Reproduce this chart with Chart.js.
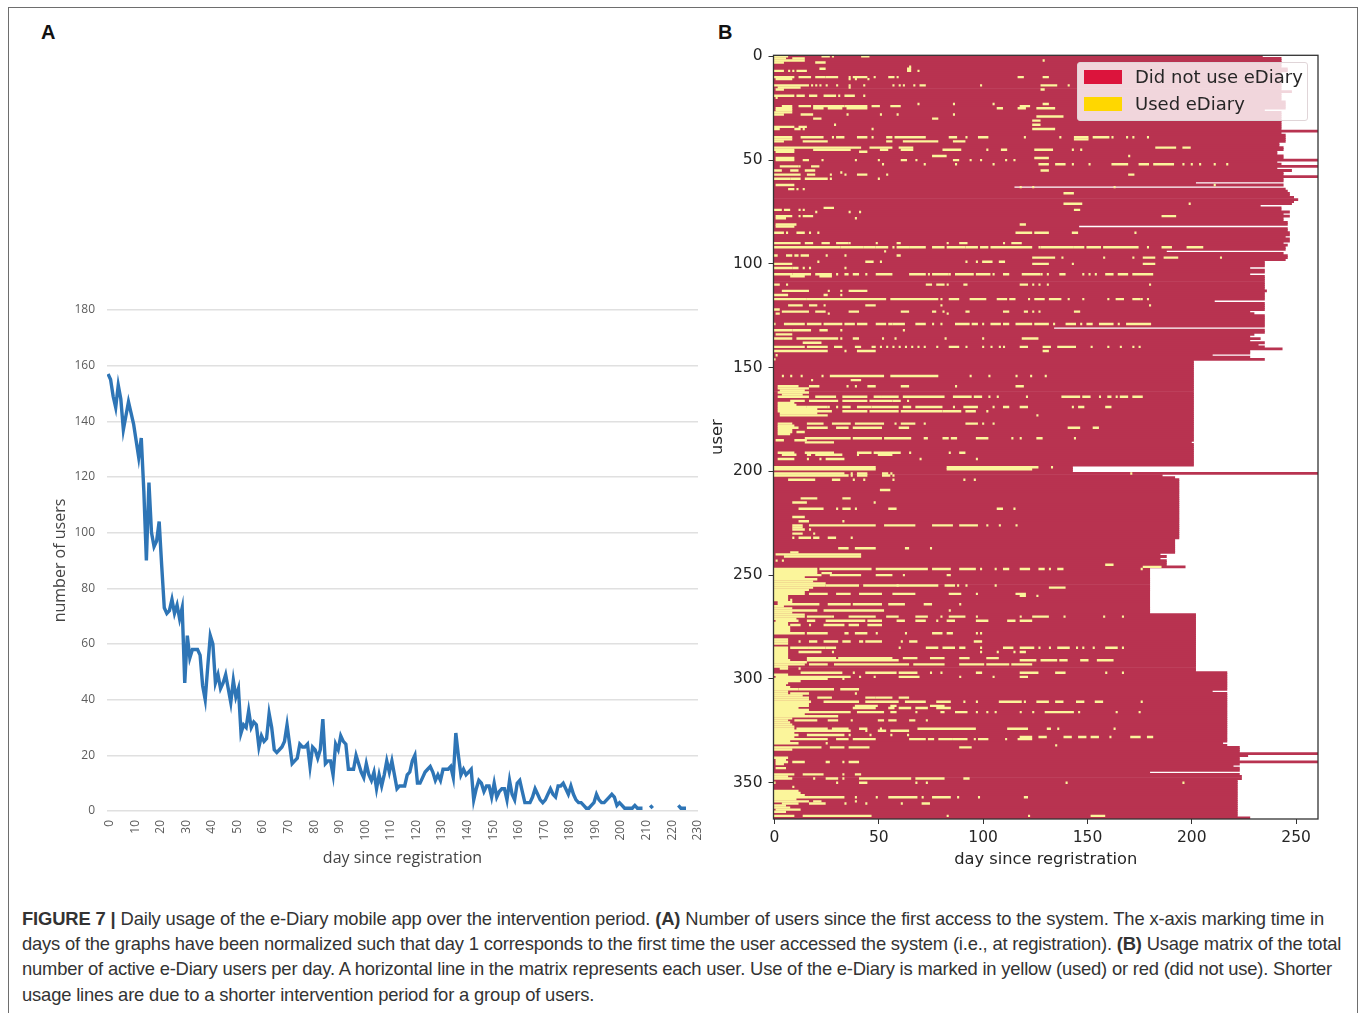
<!DOCTYPE html>
<html>
<head>
<meta charset="utf-8">
<title>Figure 7</title>
<script src="https://cdn.jsdelivr.net/npm/chart.js"></script>
<style>
  html, body { margin: 0; padding: 0; background: #fff; overflow: hidden; }
  body { width: 1360px; height: 1013px; position: relative; font-family: "Liberation Sans", sans-serif; }
  #frame { position: absolute; left: 8px; top: 7px; width: 1348px; height: 1020px; border: 1px solid #6e6e6e; }
  canvas { position: absolute; }
  .panel { position: absolute; top: 21px; font: bold 20px "Liberation Sans", sans-serif; color: #111; }
  .cap { position: absolute; left: 22px; font-size: 18.4px; color: #333; white-space: nowrap; }
  #legend { position: absolute; left: 1077px; top: 62px; width: 231px; height: 59px; background: rgba(255,255,255,0.8);
    border: 1px solid #e0d5d8; border-radius: 3px; box-sizing: border-box; font: 18px "DejaVu Sans", sans-serif; color: #262626; }
  #legend i { position: absolute; left: 6px; width: 38px; height: 14px; }
  #legend span { position: absolute; left: 57px; white-space: nowrap; }
</style>
</head>
<body>
<div id="frame"></div>
<div class="panel" style="left:41px">A</div>
<div class="panel" style="left:718px">B</div>
<canvas id="usersChart" width="700" height="582" style="left:30px;top:290px"></canvas>
<canvas id="matrixChart" width="640" height="840" style="left:700px;top:40px"></canvas>
<div id="legend">
  <i style="top:7px;background:#dc143c"></i><span style="top:3px">Did not use eDiary</span>
  <i style="top:34px;background:#ffd700"></i><span style="top:30px">Used eDiary</span>
</div>
<div class="cap" style="top:908px;letter-spacing:-0.15px"><b>FIGURE 7 |</b> Daily usage of the e-Diary mobile app over the intervention period. <b>(A)</b> Number of users since the first access to the system. The x-axis marking time in</div>
<div class="cap" style="top:933px;letter-spacing:-0.19px">days of the graphs have been normalized such that day 1 corresponds to the first time the user accessed the system (i.e., at registration). <b>(B)</b> Usage matrix of the total</div>
<div class="cap" style="top:958px;letter-spacing:-0.2px">number of active e-Diary users per day. A horizontal line in the matrix represents each user. Use of the e-Diary is marked in yellow (used) or red (did not use). Shorter</div>
<div class="cap" style="top:984px;letter-spacing:-0.17px">usage lines are due to a shorter intervention period for a group of users.</div>

<script>
// Panel A: users per day, one value per day starting at day 0 (null = line is broken)
const activeUsers = [
  157,155,149,145,153,148,137,142,147,143,
  139,133,127,134,115,90,118,100,95,97,
  104,88,73,71,72,76,71,74,69,73,
  46,63,55,58,58,58,56,45,40,52,
  63,60,46,49,44,46,49,44,39,47,
  41,44,28,31,30,36,30,32,31,23,
  27,25,26,35,30,22,21,22,23,25,
  31,24,17,18,19,24,23,23,24,16,
  23,22,19,22,33,17,18,18,13,24,
  22,27,25,24,15,15,15,20,17,14,
  12,17,13,11,14,8,13,9,13,18,
  14,18,13,8,9,9,9,13,14,18,
  20,10,10,12,14,15,16,14,11,13,
  11,15,15,15,16,12,28,20,13,15,
  13,14,15,4,8,11,10,7,9,9,
  5,10,5,7,8,8,4,11,6,4,
  10,11,7,3,3,3,5,8,6,4,
  3,4,6,8,6,5,9,9,10,8,
  6,9,6,4,3,3,2,1,1,2,
  3,6,4,3,3,4,5,6,5,2,
  3,2,1,1,1,1,2,1,1,1,
  null,null,2,1,null,null,null,null,null,null,
  null,null,null,2,1,1,1
];
const usersTicks = [0,20,40,60,80,100,120,140,160,180];

// Panel B: where each user's row ends. endFromUser[i] is the first user with end day endDays[i]
const endFromUser = [0,1,6,8,17,18,22,26,27,36,37,38,42,44,46,48,50,51,52,53,54,55,56,58,59,61,62,63,64,65,66,68,69,70,71,72,73,75,76,77,78,80,82,83,85,87,88,90,91,92,94,95,96,98,99,102,103,105,106,113,114,118,119,123,124,125,131,132,134,135,136,137,138,139,140,141,142,144,145,146,147,186,187,198,201,202,203,204,233,240,241,242,243,245,246,247,269,297,306,307,331,332,333,336,337,338,340,341,342,343,345,346,347,349,367];
const endDays = [234,243,246,243,248,243,245,235,243,260.5,243,245,242,244,241,244,260.5,241,243,260.5,241,248,244,260.5,244,202,244,115,245,246,247,249,251,249,248,233,243,247,244,247,244,246,146,246,247,245,247,244,246,245,188,244,246,245,235,228,235,228,235,236,235,211,235,228,230,235,134,235,230,228,233,228,235,232,235,243.5,228,210,228,235,201,200,201,143,260.5,186,192,194,192,185,188,185,188,188,197,180,202,217,210,217,215,217,223,260.5,227,223,260.5,223,220,223,180,223,224,222,228];

// Panel B: days a user used the diary, as [user, from, to, from, to, ...]
const usedRuns = [
  [0,0,6,23,26,28,28,42,45],[1,0,5,9,14],[2,0,14,129,129],[3,0,4,20,24],[5,65,65],[6,22,24,64,65],
  [7,0,4,7,7,9,9,11,15,64,65,69,69],[10,0,9,12,17,20,24,25,30,36,36,38,44,48,48,55,57,59,59,117,119,129,131],
  [11,1,8,36,36,39,39,45,45],[14,0,16,18,18,20,20,22,22,25,25,30,30,36,36,43,43,57,57,60,60,62,62,67,67,70,72,99,99,128,135,141,141],
  [15,2,12,36,36],[16,1,4,128,129],[19,0,9,11,14,17,20,24,29,31,31,34,38,43,43],[20,1,1],
  [23,69,69,86,86,105,105,129,131],[24,4,8,12,17,19,33,34,44,47,50,56,60,118,122],[25,1,8,19,23,26,32,35,44,107,109,117,120,126,134],
  [26,1,8],[27,0,8],[28,0,4,13,18,35,35,51,51,59,59,86,86],[29,126,138],[30,19,22,76,78],[31,124,127],[33,29,29,124,127],
  [34,0,9,12,15],[35,0,2,10,12,14,14,47,47,124,134],
  [39,0,8,13,23,28,28,30,33,40,44,47,47,54,56,58,72,84,87,92,92,98,102,120,120,137,137,144,150,153,160,162,162,169,169,172,172,179,179],
  [40,0,8,144,150],[41,0,4,14,25,54,56,62,78,86,91],[44,0,40,41,41,46,56,60,66,183,192,196,199],
  [45,0,9,19,36,51,54,61,66,81,89,102,102,109,111,125,133,143,143,147,147],[46,1,9,41,44],[48,76,82,170,170],[49,1,9,125,131],
  [50,1,9,14,16,23,23,39,39,50,50,61,63,68,68,86,88,94,94,99,99,111,111,115,115],
  [52,52,52,72,72,87,87,105,105,127,131,135,139,143,143,151,151,162,169,175,179,182,191,196,196,200,200,204,204,211,211,217,217],
  [53,3,11,12,12,18,21],[55,0,3,8,11,15,19,128,131],[56,32,32],[57,0,12,16,19,27,27,34,34,40,44,54,54,170,172],
  [59,0,7,8,12,15,25,27,27,50,50],[62,1,9,211,211],[63,118,118,124,124,163,163],[64,7,9,11,11,14,14],[66,139,143],
  [71,139,147,199,199],[73,24,28],[74,0,3,5,7,12,12,14,14,144,146],[75,20,20,36,36,41,41],[77,1,8,12,12,14,18,186,192],
  [78,1,5,39,39],[81,1,10,118,120],[82,1,9],[85,0,4,6,6,11,14,17,17,21,21,116,123,125,131,143,145,173,173],
  [90,0,12,15,18,23,26,30,35,36,36,49,49,59,60,83,83,89,92,110,110,114,118],
  [92,0,31,32,42,43,48,49,54,57,57,59,64,65,72,76,81,83,91,92,97,99,102,104,123,127,127,128,143,144,148,150,156,158,174,179,179,186,190,198,205],
  [94,53,53],[96,0,1,6,8,10,11,13,16,25,25,34,34,59,60],[97,124,134,138,138,158,158,172,172,177,182,187,193,214,214],
  [99,21,21,44,47,51,51,92,92,97,97,100,104,108,110],[100,0,8,124,131,143,143,177,182],[102,0,8,9,11,14,14,17,17,34,34],
  [105,0,8,9,17,20,27,30,30,34,35,38,40,44,44,49,56,65,72,74,74,76,83,84,84,87,95,97,103,105,105,110,112,119,127,128,128,131,131,137,139,148,148,151,151,154,154,159,162,165,169,172,181],
  [106,8,14,22,27],[110,0,2,6,6,73,75,78,81,83,83,91,92,118,121,124,124,127,127,131,131,180,180],[113,4,16,26,26,32,32,36,44],
  [115,0,6,24,25,32,32],[117,0,15,16,53,56,78,80,80,84,88,94,101,107,111,113,115,122,122,125,129,132,137,141,141,148,148,160,160,164,167,172,175,176,176,179,179],
  [120,7,13,17,20,24,24,44,48,80,80,180,180],[122,0,2],[123,4,16,20,24,36,40,61,64,76,77,81,81,92,93,110,112,120,121,124,124,127,127,144,146],
  [124,1,2,26,26,83,83],[129,0,0,5,14,16,22,24,32,34,38,40,44,49,53,55,56,57,62,68,72,76,76,80,80,87,93,95,97,100,100,104,108,110,112,116,123,125,131,134,134,140,144,147,147,150,152,156,162,165,165,169,180],
  [132,0,8,9,17,22,25,32,32,62,62],[134,1,8],[136,0,8,11,30,32,32,38,40,52,52,58,58,82,82,100,100,119,126],[138,14,22],
  [140,0,14,16,25,29,32,39,41,47,48,51,51,54,54,57,57,60,60,63,63,66,66,69,69,72,72,78,78,84,88,92,92,100,100,104,104,108,108,110,110,118,121,129,132,136,144,152,152,160,160,166,166,172,172,175,175],
  [142,0,25,34,34,40,48,129,131],[144,1,1],[146,0,0],
  [154,4,4,8,8,13,13,23,23,27,52,56,78,94,94,103,103,116,116,123,123,130,130],[156,18,18,37,41],
  [159,2,11,17,21,35,35,39,39,45,48,61,64,87,87,116,119],[160,2,16],[161,3,14],[162,2,16],[163,4,13],
  [164,2,16,20,29,33,44,48,51,52,59,62,81,86,94,96,99,103,103,107,107,121,121,138,146,148,151,156,156,160,161,164,164,166,169,172,176],
  [166,8,14,17,30,33,44,46,56,57,60,64,64],[167,2,9],[168,2,10],
  [169,2,15,16,25,26,26,30,30,33,36,40,46,47,59,62,65,68,80,86,86,91,97,105,105,110,112,118,121,143,143,146,148,159,161],
  [170,2,20],[171,2,27,33,44,46,59,61,80,81,89,92,96,102,102],[172,3,20],[173,3,25,126,126],
  [177,2,8,16,23,28,36,39,52,58,58,61,67,72,72,92,97,100,100,105,105],[178,2,9],[179,2,11,16,25,30,35,38,51,60,64,141,146,153,155],
  [180,2,8],[181,2,8,11,14],[182,2,7],[184,15,36,38,51,53,65,72,73,81,83,85,87,97,102,114,114,118,118,126,128,144,144],
  [185,1,4,10,15],[186,15,28],[191,2,9,15,28,40,46,48,60,65,65,84,84,89,91],[192,4,10,16,17,20,32,40,40,50,56],[194,2,9,16,16,22,22,25,33,70,70,97,97],
  [198,0,48,83,126,133,133],[199,0,48,83,123],[201,0,33,37,37,40,44,52,54,56,56,171,171],[202,0,35,37,37,40,44,52,55,57,57],
  [204,7,19,28,31,38,38,43,43,57,57,91,91,96,96],[209,51,55],[213,13,20,33,36],[215,9,15,48,48],[218,12,23,30,30,33,36,39,39,55,58,107,109,115,115],
  [222,9,14],[224,12,16,33,33],[226,9,13,17,48,53,67,76,85,89,97,102,102,108,108,116,116],[227,9,13],[228,9,14,17,17],[230,9,13,19,19],
  [232,9,9,12,17,19,21,26,29,37,37],[237,31,35,39,48,63,64,75,75],[239,8,11],[240,1,41],[241,5,41],[243,1,1,4,4],[245,159,162],[246,177,185],
  [247,0,20,22,46,49,73,76,84,89,96,99,99,106,106,110,112,118,122,127,129,132,132,136,138,176,176],[248,0,20],
  [249,0,20,23,27],[250,0,22,27,41,49,56,62,62,83,84],[251,0,14],[252,0,20],[253,0,18],[254,0,24],
  [255,0,24,25,40,43,59,59,78,82,86,88,88,92,92,106,106],[256,0,18,132,139],[257,0,16],[258,0,14],
  [259,0,14,17,25,30,36,41,51,57,67,84,89,97,97,116,120],[260,0,6,118,120,126,126],[261,0,6],[262,0,6,8,8],[263,2,8],
  [264,2,21,26,36,38,51,55,62,72,75,89,89],[265,0,4],[266,0,8],[267,0,20,24,52,84,84],[268,0,8],[269,0,14],
  [270,0,14,16,27,28,28,36,48,54,59,68,73,80,80,84,91,97,97,118,118,124,131,139,139,158,158,167,167],[271,0,10],
  [272,1,11,16,19,25,43,45,51,59,62,68,72,78,78,83,86,97,102,112,115,118,123],[273,0,6],[274,0,6,8,12,17,17,24,33,36,40,45,51],[275,0,7],[276,0,7],[277,0,7],
  [278,0,14,16,25,34,35,39,44,49,49,63,63,76,80,83,85,97,97,99,99],[281,0,6],[282,0,6,12,12,17,20,24,30,33,36,41,42,44,51,61,61,65,68,96,99],[283,0,6],
  [285,0,6,8,16,17,24,25,29,60,60,73,78,81,86,89,91,99,99,110,114,118,124,127,127,132,132,136,141,145,145,148,148,153,153,159,164,167,167],[286,0,6],
  [287,0,6,12,22,28,28,99,99,107,107,115,115,118,120],[288,0,6],[289,0,6],[290,0,6,16,29,31,56,62,68,75,81,89,93,102,107],
  [291,0,7,16,59,118,125,128,135,137,140,147,150,155,162],[292,0,15],[293,0,14,17,25,29,64,67,81,89,100,102,112,114,123],[294,0,6],[295,3,6,12,12],
  [297,13,32,38,38,44,58,60,68,75,75,80,80,97,99,118,126,135,139,159,159,167,167],[298,0,6],[299,1,36,41,41,48,48,60,69,89,89,105,105,118,121],
  [300,0,25,33,33],[301,0,12],[302,0,6],[303,0,5],[304,0,7],[305,0,11,12,28,32,40],[306,0,6],[307,0,6,8,16,39,39],[308,0,13],
  [309,0,16,21,27,44,48,49,56,60,64],[310,0,16],[311,0,17,24,40,44,59,63,72,78,84,91,91,97,97,108,118,120,120,126,131,135,138,145,148,154,157,176,176],[312,0,16],
  [313,0,16,39,49,56,58,75,81],[314,0,11,38,48,55,57,60,65,68,73,78,84],[315,0,16],[316,0,36,40,52,56,58,68,68,80,81,87,92,97,97,102,102,106,106,118,118,124,124,130,143,146,146,164,164,175,175],
  [317,0,14],[318,0,16,17,30],[319,0,8],[320,0,6,10,20,26,30,37,37,50,52,55,58,65,67,73,73],[321,0,7],[322,0,8],[323,0,9],
  [324,0,9,11,25,28,35,41,44,51,51,69,96,112,121,131,132,136,136,163,163],[325,0,36,44,44,50,53,56,64],[326,0,9],
  [327,0,11,16,33,36,36,46,46,56,56,64,64],[328,0,9,118,123,127,130,139,142,146,149,152,155,161,161,171,175,179,181],
  [329,0,25,30,35,38,48,65,72,74,76,79,85,86,92,96,96,98,102,111,111,117,123],[330,0,7],[331,0,11,25,25],[332,135,135],
  [333,0,22,27,33,36,45,89,94],[334,0,8],[338,0,6],[339,1,5],[340,1,6,9,14,25,26,33,33,36,40],[341,1,4],[343,1,5],
  [346,0,9,14,23,33,33,39,41],[347,0,6],[348,0,8,19,19,25,30,33,33,41,65,68,81,91,93],[350,0,0,30,30,41,44,68,68,73,73,140,140,196,196],[352,9,9],
  [354,0,11],[355,0,12],[356,0,14],[357,0,16,17,33,39,39,49,49,55,68,71,71,76,84,88,88,98,98,120,121],[358,0,10],[359,0,16,19,22,39,39],
  [360,4,11,17,24,34,34,44,44,61,61,71,74],[361,0,5],[362,0,7],[363,1,12],[364,0,5],[366,0,9,14,46,83,83,122,122,152,158]
];
const matrixTicks = [0,50,100,150,200,250,300,350];

// Table for the red rows
const notUsedBars = [];
endFromUser.forEach((from, i) => {
  const next = i + 1 < endFromUser.length ? endFromUser[i + 1] : 368;
  for (let user = from; user < next; user++) {
    notUsedBars.push({ x: [-0.5, endDays[i]], y: user });
  }
});

// Table for the yellow cells
const usedBars = [];
usedRuns.forEach(run => {
  for (let i = 1; i < run.length; i += 2) {
    usedBars.push({ x: [run[i] - 0.5, run[i + 1] + 0.5], y: run[0] });
  }
});

// Panel A
new Chart(document.getElementById('usersChart'), {
  type: 'line',
  data: {
    labels: activeUsers.map((v, day) => day),
    datasets: [{
      label: 'number of users',
      data: activeUsers.map((v, day) => ({ x: day, y: v })),
      borderColor: '#2e75b6',
      borderWidth: 3.4,
      pointRadius: 0,
      tension: 0,
      spanGaps: false
    }]
  },
  options: {
    responsive: false,
    animation: false,
    layout: { padding: { top: 20, right: 32, left: 21, bottom: 0 } },
    plugins: { legend: { display: false }, tooltip: { enabled: false } },
    scales: {
      x: {
        type: 'linear',
        min: -0.4,
        max: 230.7,
        grid: { display: false },
        border: { display: false },
        afterFit: scale => { scale.height = 61; },
        ticks: { stepSize: 10, includeBounds: false, minRotation: 90, maxRotation: 90, padding: 1, labelOffset: 1.5, color: '#5c5c5c', font: { family: 'Open Sans', size: 12 } },
        title: { display: true, text: 'day since registration', color: '#444', padding: { top: 0, bottom: 4 }, font: { family: 'Open Sans', size: 16 } }
      },
      y: {
        min: 0,
        max: 180,
        afterFit: scale => { scale.width = 56; },
        afterBuildTicks: scale => { scale.ticks = usersTicks.map(v => ({ value: v })); },
        grid: { color: '#e0e0e0', lineWidth: 1.6, drawTicks: false },
        border: { display: false },
        ticks: { padding: 12, color: '#5c5c5c', font: { family: 'Open Sans', size: 12 } },
        title: { display: true, text: 'number of users', color: '#444', padding: 0, font: { family: 'Open Sans', size: 16 } }
      }
    }
  }
});

// Black box round the matrix
const matrixFrame = {
  id: 'matrixFrame',
  afterDatasetsDraw(chart) {
    const a = chart.chartArea;
    chart.ctx.save();
    chart.ctx.strokeStyle = '#333';
    chart.ctx.lineWidth = 1.3;
    chart.ctx.strokeRect(a.left, a.top, a.right - a.left, a.bottom - a.top);
    chart.ctx.restore();
  }
};

// Panel B, bars a bit thicker than a row so no seams show between rows
new Chart(document.getElementById('matrixChart'), {
  type: 'bar',
  data: {
    datasets: [
      { label: 'Used eDiary', data: usedBars, backgroundColor: '#fbf59b', barThickness: 2.4, inflateAmount: 0, grouped: false },
      { label: 'Did not use eDiary', data: notUsedBars, backgroundColor: '#b83350', barThickness: 2.8, inflateAmount: 0, grouped: false }
    ]
  },
  options: {
    indexAxis: 'y',
    responsive: false,
    animation: false,
    layout: { padding: { top: 14, right: 22, left: 8, bottom: 0 } },
    plugins: { legend: { display: false }, tooltip: { enabled: false } },
    scales: {
      x: {
        type: 'linear',
        min: -0.5,
        max: 260.5,
        afterFit: scale => { scale.height = 61; },
        grid: { drawOnChartArea: false, tickLength: 5, tickColor: '#333' },
        border: { display: false },
        ticks: { stepSize: 50, includeBounds: false, maxRotation: 0, padding: 5, color: '#262626', font: { family: 'DejaVu Sans', size: 15.5 } },
        title: { display: true, text: 'day since regristration', color: '#262626', padding: { top: 0, bottom: 10 }, font: { family: 'DejaVu Sans', size: 16.3 } }
      },
      y: {
        type: 'linear',
        reverse: true,
        offset: false,
        min: -0.5,
        max: 367.5,
        afterFit: scale => { scale.width = 65.5; },
        afterBuildTicks: scale => { scale.ticks = matrixTicks.map(v => ({ value: v })); },
        grid: { offset: false, drawOnChartArea: false, tickLength: 5, tickColor: '#333' },
        border: { display: false },
        ticks: { padding: 6, color: '#262626', font: { family: 'DejaVu Sans', size: 15.5 } },
        title: { display: true, text: 'user', color: '#262626', padding: 0, font: { family: 'DejaVu Sans', size: 16.3 } }
      }
    }
  },
  plugins: [matrixFrame]
});
</script>
</body>
</html>
